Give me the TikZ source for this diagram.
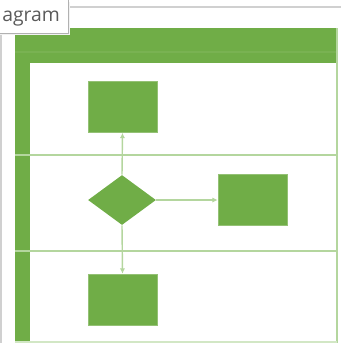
\documentclass[tikz,border=0pt]{standalone}
\usepackage{fontspec}
\setsansfont{Open Sans}
\usetikzlibrary{shapes.geometric, arrows.meta}

\definecolor{poolgreen}{HTML}{70AD47}
\definecolor{lanegreen}{HTML}{B4D69E}
\definecolor{framegray}{HTML}{D0D0D0}
\definecolor{tipgray}{HTML}{5A5A5A}

\begin{document}
\begin{tikzpicture}[x=0.02cm, y=-0.02cm,
  task/.style={fill=poolgreen, draw=poolgreen!75!white, line width=0.4pt,
    minimum width=1.38cm, minimum height=1.02cm, inner sep=0pt},
  decision/.style={diamond, fill=poolgreen, minimum width=1.36cm,
    minimum height=1cm, inner sep=0pt},
  flow/.style={draw=lanegreen, line width=0.8pt, -{Latex[length=3pt, width=3pt]}},
  lane/.style={draw=lanegreen, line width=1.2pt}]
\useasboundingbox (0,0) rectangle (347,343);

% window frame
\draw[framegray, line width=0.6pt] (68,7) -- (341,7);
\draw[framegray, line width=1pt] (1,30) -- (1,343);

% pool header and lane strip
\fill[poolgreen] (15,28) rectangle (338,63);
\fill[poolgreen] (15,63) rectangle (30,343);
\draw[poolgreen!94!white, line width=0.6pt] (15,52) -- (338,52);
\draw[lane] (15,155) -- (338,155);
\draw[lane] (15,251) -- (338,251);
\draw[lanegreen, line width=0.8pt] (337,28) -- (337,343);
\draw[lanegreen!60!white, line width=0.8pt] (15,342) -- (337,342);

% shapes
\node (task1) at (122.5,107) [task] {};
\node (choice) at (122,200) [decision] {};
\node (task2) at (252.5,200) [task] {};
\node (task3) at (122.5,299.5) [task] {};

\draw[flow] (choice.north) -- (task1.south);
\draw[flow] (choice.east) -- (task2.west);
\draw[flow] (choice.south) -- (task3.north);

% tooltip
\fill[black!5] (-1,2) rectangle (69.5,34.5);
\node (tip) at (-2,-1) [anchor=north west, draw=framegray!85!black, fill=white,
  line width=0.6pt, minimum width=1.4cm, minimum height=0.68cm, inner sep=0pt] {};
\node (tiptext) at (2,21) [anchor=base west, inner sep=0pt, text=tipgray,
  font=\sffamily\fontsize{11pt}{13pt}\selectfont] {agram};
\end{tikzpicture}
\end{document}
